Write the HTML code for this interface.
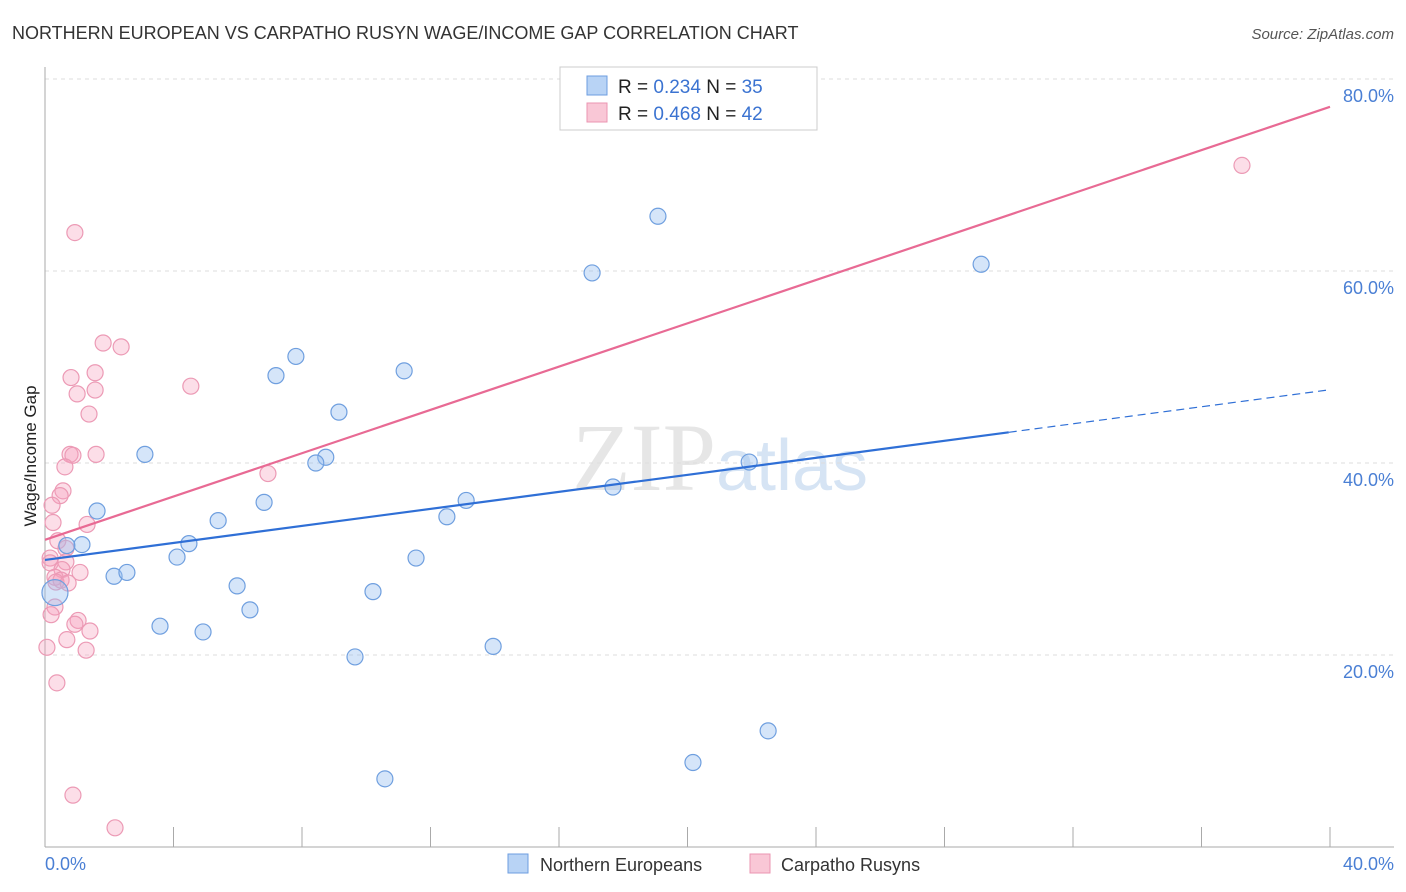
<!DOCTYPE html>
<html><head><meta charset="utf-8"><style>
body{margin:0;background:#fff;font-family:"Liberation Sans",sans-serif}
svg{display:block}
</style></head><body>
<svg width="1406" height="892" id="c">
<text x="12" y="39" font-size="18" fill="#333">NORTHERN EUROPEAN VS CARPATHO RUSYN WAGE/INCOME GAP CORRELATION CHART</text>
<text x="1394" y="39" font-size="15" fill="#555" text-anchor="end" font-style="italic">Source: ZipAtlas.com</text>
<text x="720" y="490" font-size="96" fill="#e6e6e6" text-anchor="middle" font-family="Liberation Serif">ZIP<tspan fill="#d6e4f4" font-family="Liberation Sans" font-size="72">atlas</tspan></text>
<g id="grid"></g>
<line x1="45" y1="67" x2="45" y2="847" stroke="#aaa"/>
<line x1="45" y1="847" x2="1394" y2="847" stroke="#aaa"/>
<g id="ticks"></g>
<text x="36" y="456" font-size="17" fill="#222" text-anchor="middle" transform="rotate(-90 36 456)">Wage/Income Gap</text>
<text x="45" y="870" font-size="18" fill="#4a7fd4">0.0%</text>
<text x="1394" y="870" font-size="18" fill="#4a7fd4" text-anchor="end">40.0%</text>
<g id="marks"></g>
<g>
<rect x="560" y="67" width="257" height="63" fill="#fff" stroke="#ccc"/>
<rect x="587" y="76" width="20" height="19" fill="#b8d3f5" stroke="#6d9ee0"/>
<rect x="587" y="103" width="20" height="19" fill="#f9c7d6" stroke="#eb94b2"/>
<text x="618" y="93" font-size="19" fill="#222">R = <tspan fill="#3b73d1">0.234</tspan>   N = <tspan fill="#3b73d1">35</tspan></text>
<text x="618" y="120" font-size="19" fill="#222">R = <tspan fill="#3b73d1">0.468</tspan>   N = <tspan fill="#3b73d1">42</tspan></text>
</g>
<g>
<rect x="508" y="854" width="20" height="19" fill="#b8d3f5" stroke="#6d9ee0"/>
<text x="540" y="871" font-size="18" fill="#333">Northern Europeans</text>
<rect x="750" y="854" width="20" height="19" fill="#f9c7d6" stroke="#eb94b2"/>
<text x="781" y="871" font-size="18" fill="#333">Carpatho Rusyns</text>
</g>
</svg>
<script>
const yTicks=[20,40,60,80];
const yTickLabels=["20.0%","40.0%","60.0%","80.0%"];
const xTicks=[0,4,8,12,16,20,24,28,32,36,40];
const blueX=[19.08,17.03,29.14,7.81,7.19,11.18,9.15,3.11,8.74,8.43,21.92,17.68,13.11,6.82,1.62,12.51,5.39,1.15,4.48,0.68,4.11,11.55,2.15,2.55,5.98,10.21,6.38,3.58,4.92,13.95,9.65,22.51,20.17,10.58,0.31];
const blueY=[65.7,59.8,60.7,51.1,49.1,49.6,45.3,40.9,40.6,40.0,40.1,37.5,36.1,35.9,35.0,34.4,34.0,31.5,31.6,31.4,30.2,30.1,28.2,28.6,27.2,26.6,24.7,23.0,22.4,20.9,19.8,12.1,8.8,7.1,26.5];
const pinkX=[37.26,0.93,1.81,2.37,0.81,1.56,4.54,1.00,1.56,1.37,0.78,0.87,1.59,6.94,0.62,0.56,0.47,0.22,0.25,1.31,0.40,0.65,0.16,0.16,0.65,0.53,0.31,0.50,0.34,0.72,0.31,0.19,1.03,0.93,1.40,0.68,0.06,1.28,0.37,0.87,2.18,1.09];
const pinkY=[71.0,64.0,52.5,52.1,48.9,49.4,48.0,47.2,47.6,45.1,40.9,40.8,40.9,38.9,39.6,37.1,36.6,35.6,33.8,33.6,31.9,31.1,30.1,29.6,29.7,28.9,28.1,27.8,27.6,27.5,25.0,24.2,23.6,23.2,22.5,21.6,20.8,20.5,17.1,5.4,2.0,28.6];
const blueFit=[29.9,0.4433]; // intercept, slope
const pinkFit=[32.0,1.1275];
const blueSolidEnd=30.0;
const sx=v=>45+v/40*1285, sy=v=>847-v/80*768;
const NS="http://www.w3.org/2000/svg";
function mk(parent,tag,attrs){const e=document.createElementNS(NS,tag);for(const k in attrs)e.setAttribute(k,attrs[k]);document.getElementById(parent).appendChild(e);return e;}
yTicks.forEach((t,i)=>{
 const l=mk('grid','line',{x1:45,x2:1394,y1:sy(t),y2:sy(t),stroke:'#ddd','stroke-dasharray':'4 4'});
 
 
 const tx=mk('grid','text',{x:1394,y:sy(t)+23,'font-size':18,fill:'#4a7fd4','text-anchor':'end'});
 tx.textContent=yTickLabels[i];
 
 
});
xTicks.forEach(t=>{
 const l=mk('ticks','line',{x1:sx(t),x2:sx(t),y1:827,y2:847,stroke:'#aaa'});
 
 
});
pinkX.forEach((x,i)=>{
 const c=mk('marks','circle',{cx:sx(x),cy:sy(pinkY[i]),r:8,fill:'rgba(245,160,190,0.35)',stroke:'#ec9ab5','stroke-width':1.2});
 
 
});
blueX.forEach((x,i)=>{
 const c=mk('marks','circle',{cx:sx(x),cy:sy(blueY[i]),r:i===blueX.length-1?13:8,fill:'rgba(150,190,240,0.4)',stroke:'#6f9fdf','stroke-width':1.2});
 
 
});
const f=(p,x)=>p[0]+p[1]*x;
let l1=mk('marks','line',{x1:sx(0),y1:sy(f(blueFit,0)),x2:sx(blueSolidEnd),y2:sy(f(blueFit,blueSolidEnd)),stroke:'#2f6fd6','stroke-width':2.2});


let l2=mk('marks','line',{x1:sx(blueSolidEnd),y1:sy(f(blueFit,blueSolidEnd)),x2:sx(40),y2:sy(f(blueFit,40)),stroke:'#2f6fd6','stroke-width':1.2,'stroke-dasharray':'8 5'});


let l3=mk('marks','line',{x1:sx(0),y1:sy(f(pinkFit,0)),x2:sx(40),y2:sy(f(pinkFit,40)),stroke:'#e86a94','stroke-width':2.2});


</script>
</body></html>
